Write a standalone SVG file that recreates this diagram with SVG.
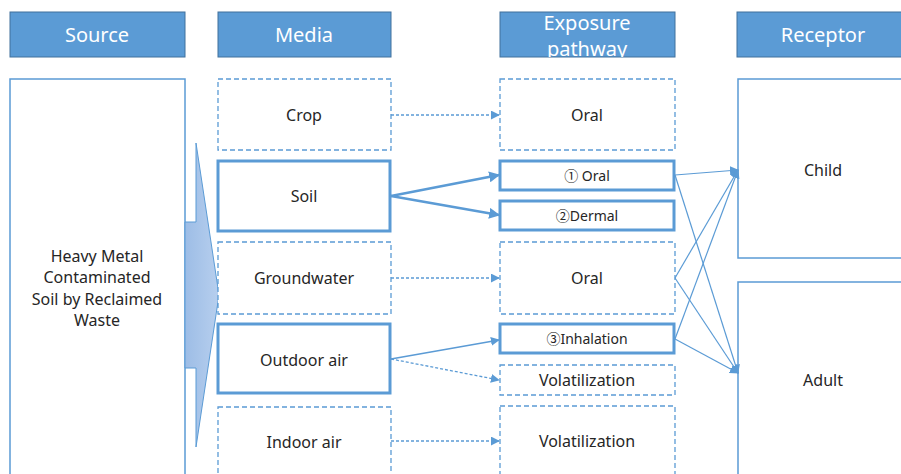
<svg xmlns="http://www.w3.org/2000/svg" width="901" height="474" viewBox="0 0 901 474">
<defs>
<style>
.hdr{fill:#5b9bd5;stroke:#41719c;stroke-width:1}
.ht{fill:#fff;font-family:"Noto Sans","Open Sans",sans-serif;font-size:20px;text-anchor:middle}
.t{fill:#262626;font-family:"Noto Sans","Noto Sans CJK KR",sans-serif;font-size:16px;text-anchor:middle}
.ts{fill:#262626;font-family:"Noto Sans","Noto Sans CJK KR",sans-serif;font-size:14px;text-anchor:middle}
.thin{fill:#fff;stroke:#5b9bd5;stroke-width:1.5}
.thick{fill:#fff;stroke:#5b9bd5;stroke-width:3}
.dash{fill:#fff;stroke:#5b9bd5;stroke-width:1.3;stroke-dasharray:5,3}
.c{fill:none;stroke:#5b9bd5}
</style>
<marker id="ah" viewBox="0 0 10 10" refX="9" refY="5" markerWidth="9" markerHeight="9" markerUnits="userSpaceOnUse" orient="auto">
<path d="M0,0 L10,5 L0,10 z" fill="#5b9bd5"/>
</marker>
<marker id="ahb" viewBox="0 0 10 10" refX="9" refY="5" markerWidth="11" markerHeight="11" markerUnits="userSpaceOnUse" orient="auto">
<path d="M0,0 L10,5 L0,10 z" fill="#5b9bd5"/>
</marker>
<clipPath id="cp"><rect x="500" y="12" width="175" height="45"/></clipPath>
<linearGradient id="g" x1="0" y1="0" x2="1" y2="0">
<stop offset="0" stop-color="#9dbde6"/><stop offset="1" stop-color="#b7cfee"/>
</linearGradient>
</defs>

<g id="h-source"><rect class="hdr" x="10" y="12" width="175" height="45"/><text class="ht" x="97" y="42">Source</text></g>
<g id="h-media"><rect class="hdr" x="218" y="12" width="173" height="45"/><text class="ht" x="304" y="42">Media</text></g>
<g id="h-exposure"><rect class="hdr" x="500" y="12" width="175" height="45"/><g clip-path="url(#cp)"><text class="ht" x="587" y="30">Exposure</text><text class="ht" x="587" y="56">pathway</text></g></g>
<g id="h-receptor"><rect class="hdr" x="737" y="12" width="175" height="45"/><text class="ht" x="823" y="42">Receptor</text></g>

<g id="source"><rect class="thin" x="10" y="79" width="175" height="410"/>
<text class="t" x="97" y="262">Heavy Metal</text>
<text class="t" x="97" y="283">Contaminated</text>
<text class="t" x="97" y="305">Soil by Reclaimed</text>
<text class="t" x="97" y="326">Waste</text></g>

<g id="big-arrow"><path d="M185,222 L196,222 L196,143 L219,295 L196,447 L196,368 L185,368 Z" fill="url(#g)" stroke="#5b9bd5" stroke-width="1"/></g>

<g id="crop"><rect class="dash" x="218" y="79" width="173" height="71"/><text class="t" x="304" y="121">Crop</text></g>
<g id="soil"><rect class="thick" x="218" y="161" width="172" height="70"/><text class="t" x="304" y="202">Soil</text></g>
<g id="groundwater"><rect class="dash" x="218" y="242" width="173" height="72"/><text class="t" x="304" y="284">Groundwater</text></g>
<g id="outdoor"><rect class="thick" x="218" y="324" width="172" height="69"/><text class="t" x="304" y="366">Outdoor air</text></g>
<g id="indoor"><rect class="dash" x="218" y="407" width="173" height="80"/><text class="t" x="304" y="448">Indoor air</text></g>

<g id="oral-crop"><rect class="dash" x="500" y="79" width="175" height="71"/><text class="t" x="587" y="121">Oral</text></g>
<g id="oral1"><rect class="thick" x="500" y="161" width="174" height="29"/><text class="ts" x="587" y="181">① Oral</text></g>
<g id="dermal2"><rect class="thick" x="500" y="201" width="174" height="29"/><text class="ts" x="587" y="221">②Dermal</text></g>
<g id="oral-gw"><rect class="dash" x="500" y="242" width="175" height="72"/><text class="t" x="587" y="284">Oral</text></g>
<g id="inhal3"><rect class="thick" x="500" y="324" width="174" height="29"/><text class="ts" x="587" y="344">③Inhalation</text></g>
<g id="volat1"><rect class="dash" x="500" y="365" width="175" height="30"/><text class="t" x="587" y="386">Volatilization</text></g>
<g id="volat2"><rect class="dash" x="500" y="406" width="175" height="80"/><text class="t" x="587" y="447">Volatilization</text></g>

<g id="child"><rect class="thin" x="738" y="79" width="180" height="179"/><text class="t" x="823" y="176">Child</text></g>
<g id="adult"><rect class="thin" x="738" y="282" width="180" height="210"/><text class="t" x="823" y="386">Adult</text></g>

<g id="connectors">
<line class="c" x1="391" y1="115" x2="499" y2="115" stroke-width="1.3" stroke-dasharray="3,2" marker-end="url(#ah)"/>
<line class="c" x1="391" y1="196" x2="499" y2="175" stroke-width="2.5" marker-end="url(#ahb)"/>
<line class="c" x1="391" y1="196" x2="499" y2="215" stroke-width="2.5" marker-end="url(#ahb)"/>
<line class="c" x1="391" y1="278" x2="499" y2="278" stroke-width="1.3" stroke-dasharray="3,2" marker-end="url(#ah)"/>
<line class="c" x1="391" y1="359" x2="499" y2="340" stroke-width="1.6" marker-end="url(#ah)"/>
<line class="c" x1="391" y1="359" x2="499" y2="380" stroke-width="1.3" stroke-dasharray="3,2" marker-end="url(#ah)"/>
<line class="c" x1="391" y1="441" x2="499" y2="441" stroke-width="1.3" stroke-dasharray="3,2" marker-end="url(#ah)"/>
<line class="c" x1="675" y1="175" x2="738" y2="170" stroke-width="1.2" marker-end="url(#ah)"/>
<line class="c" x1="675" y1="175" x2="738" y2="373" stroke-width="1.2" marker-end="url(#ah)"/>
<line class="c" x1="675" y1="278" x2="738" y2="170" stroke-width="1.2" marker-end="url(#ah)"/>
<line class="c" x1="675" y1="278" x2="738" y2="373" stroke-width="1.2" marker-end="url(#ah)"/>
<line class="c" x1="675" y1="339" x2="738" y2="170" stroke-width="1.2" marker-end="url(#ah)"/>
<line class="c" x1="675" y1="339" x2="738" y2="373" stroke-width="1.2" marker-end="url(#ah)"/>
</g>
</svg>
